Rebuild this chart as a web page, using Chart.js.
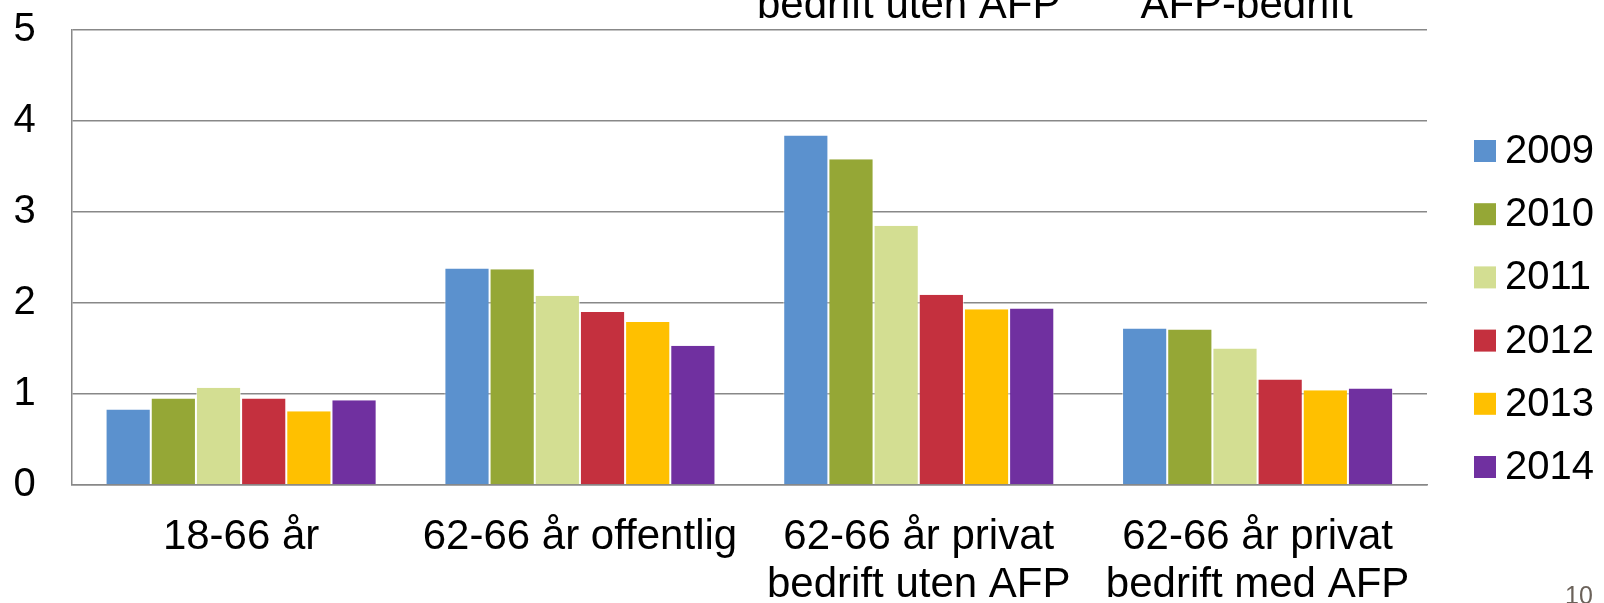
<!DOCTYPE html>
<html>
<head>
<meta charset="utf-8">
<script src="https://cdn.jsdelivr.net/npm/chart.js@4.4.1/dist/chart.umd.min.js"></script>
<style>
  html, body { margin: 0; padding: 0; background: #ffffff; }
  #wrap { width: 1604px; height: 603px; position: relative; }
</style>
</head>
<body>
<div id="wrap"><canvas id="c" width="1604" height="603"></canvas></div>
<script>
// ---- data ----
const categories = [
  ["18-66 år"],
  ["62-66 år offentlig"],
  ["62-66 år privat", "bedrift uten AFP"],
  ["62-66 år privat", "bedrift med AFP"]
];
const seriesNames = ["2009", "2010", "2011", "2012", "2013", "2014"];
const v2009 = [0.83, 2.38, 3.84, 1.72];
const v2010 = [0.95, 2.37, 3.58, 1.71];
const v2011 = [1.07, 2.08, 2.85, 1.50];
const v2012 = [0.95, 1.90, 2.09, 1.16];
const v2013 = [0.81, 1.79, 1.93, 1.04];
const v2014 = [0.93, 1.53, 1.94, 1.06];
const yTicks = [0, 1, 2, 3, 4, 5];
const topTexts = ["bedrift uten AFP", "AFP-bedrift"];
const pageNumber = "10";

// ---- styles ----
const colors = ["#5B91CE", "#95A736", "#D3DE92", "#C4303E", "#FFC000", "#7030A0"];
const FONT = "'Liberation Sans', Arial, Helvetica, sans-serif";
const gridColor = "#888888";

const allValues = [v2009, v2010, v2011, v2012, v2013, v2014];
const datasets = seriesNames.map((name, i) => ({
  label: name,
  data: allValues[i],
  backgroundColor: colors[i],
  borderColor: "rgba(255,255,255,0.55)",
  borderWidth: { left: 1, right: 1, top: 0, bottom: 0 },
  borderSkipped: false,
  categoryPercentage: 0.8,
  barPercentage: 1.0
}));

const extrasPlugin = {
  id: "extras",
  afterDraw(chart) {
    const ctx = chart.ctx;
    const area = chart.chartArea;
    ctx.save();
    // legend
    ctx.font = "40px " + FONT;
    ctx.textBaseline = "middle";
    ctx.textAlign = "left";
    const boxX = area.right + 47;
    const firstY = 151;
    const step = 63.2;
    chart.data.datasets.forEach((ds, i) => {
      const cy = firstY + i * step;
      ctx.fillStyle = ds.backgroundColor;
      ctx.fillRect(boxX, cy - 11, 22, 22);
      ctx.fillStyle = "#000000";
      ctx.fillText(ds.label, boxX + 31, cy + 1);
    });
    // cut-off texts at top
    ctx.font = "42px " + FONT;
    ctx.textAlign = "center";
    ctx.textBaseline = "alphabetic";
    ctx.fillStyle = "#000000";
    const xs = chart.scales.x;
    ctx.fillText(topTexts[0], xs.getPixelForValue(2) - 10, 18);
    ctx.fillText(topTexts[1], xs.getPixelForValue(3) - 11, 18);
    // page number
    ctx.font = "25px " + FONT;
    ctx.fillStyle = "#6b625a";
    ctx.textAlign = "left";
    ctx.fillText(pageNumber, 1565, 604);
    ctx.restore();
  }
};

new Chart(document.getElementById("c"), {
  type: "bar",
  data: { labels: categories, datasets: datasets },
  options: {
    responsive: false,
    animation: false,
    devicePixelRatio: 1,
    layout: { padding: { left: 0, right: 177, top: 30, bottom: 0 } },
    plugins: {
      legend: { display: false },
      tooltip: { enabled: false }
    },
    scales: {
      x: {
        grid: { display: false, drawTicks: false },
        border: { display: true, color: gridColor, width: 1.5 },
        ticks: {
          color: "#000000",
          font: { family: FONT, size: 42, lineHeight: 1.143 },
          padding: 28,
          maxRotation: 0,
          autoSkip: false
        },
        afterFit(scale) { scale.height = 118; }
      },
      y: {
        min: 0,
        max: 5,
        afterBuildTicks(scale) { scale.ticks = yTicks.map(v => ({ value: v })); },
        grid: { color: gridColor, lineWidth: 1.5, drawTicks: false },
        border: { display: true, color: gridColor, width: 1.5 },
        ticks: {
          color: "#000000",
          font: { family: FONT, size: 40 },
          padding: 36
        },
        afterFit(scale) {
          scale.width = 71.7;
          scale.paddingTop = 0;
          scale.paddingBottom = 0;
        }
      }
    }
  },
  plugins: [extrasPlugin]
});
</script>
</body>
</html>
